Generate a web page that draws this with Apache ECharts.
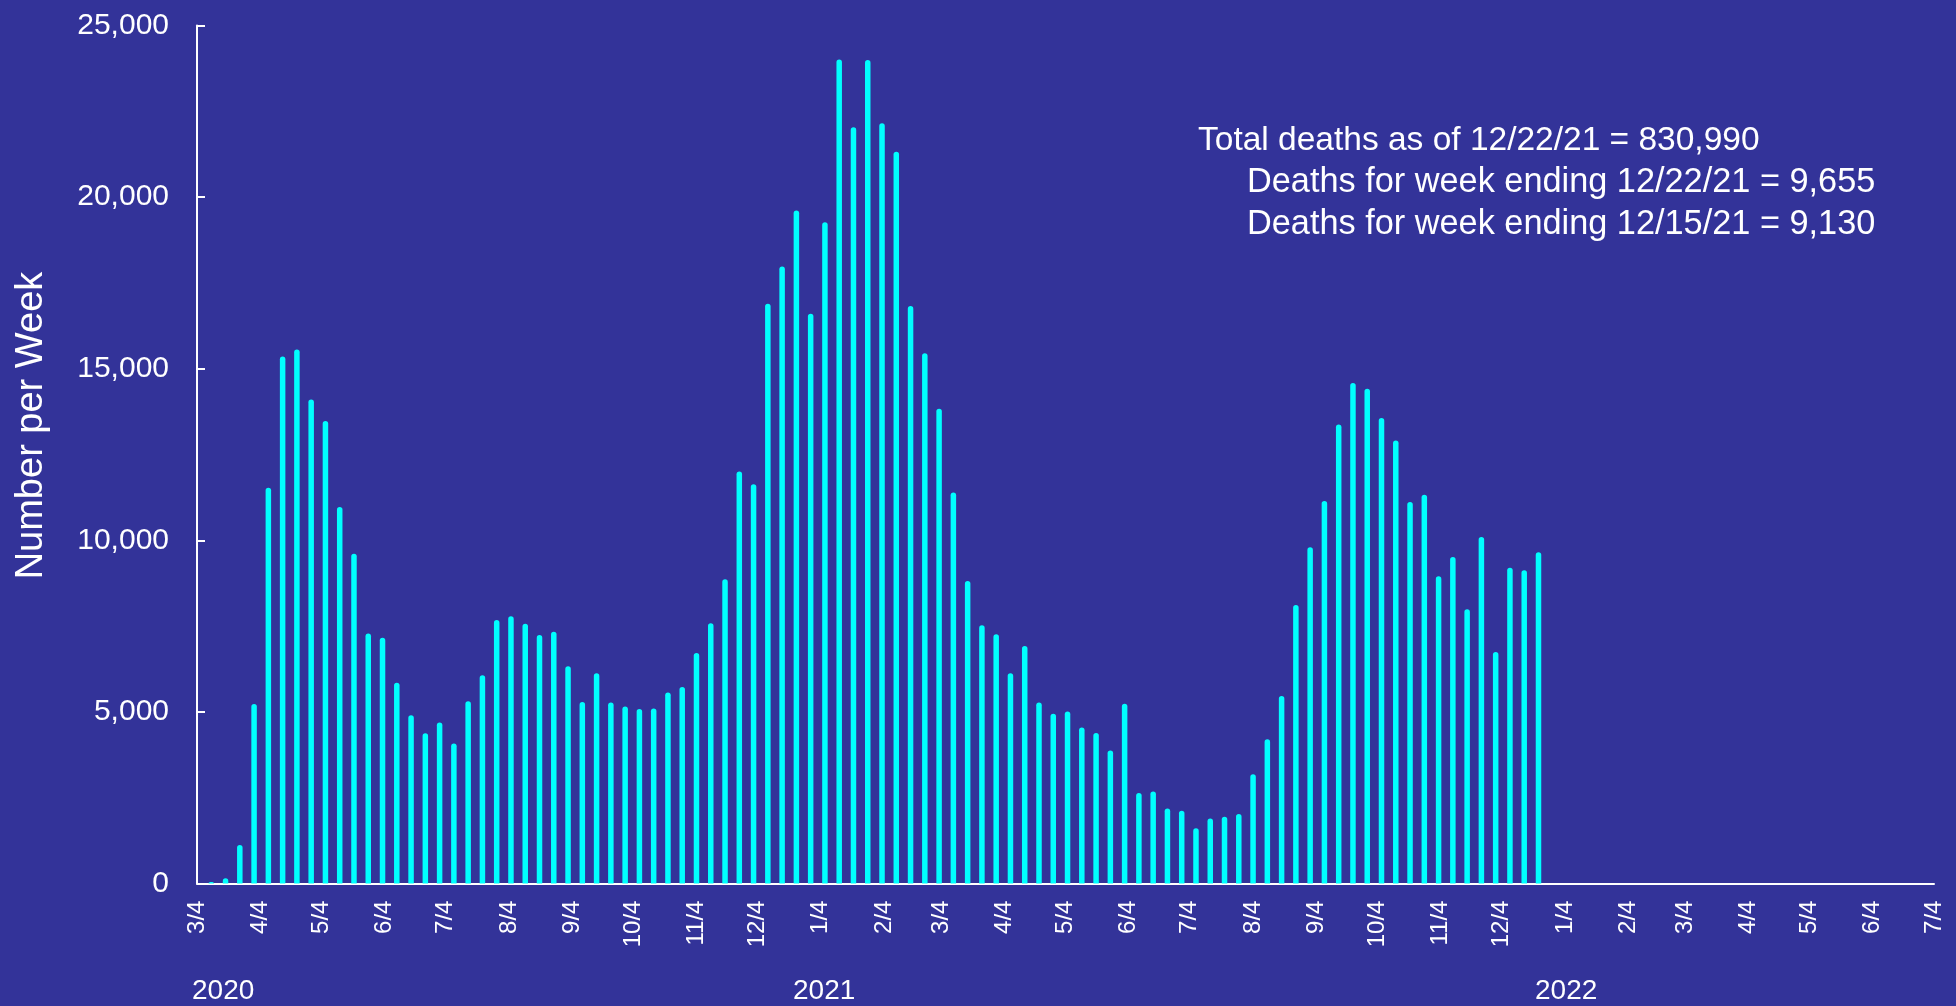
<!DOCTYPE html>
<html>
<head>
<meta charset="utf-8">
<script src="https://cdn.jsdelivr.net/npm/echarts@6/dist/echarts.min.js"></script>
<style>
html,body{margin:0;padding:0;background:#333399;}
#chart{width:1956px;height:1006px;}
</style>
</head>
<body>
<div id="chart"></div>
<script>
// Week-ending dates: weekly (Wednesdays) from 2020-03-11 through 2021-12-22
const firstWeekEnding = [2020, 2, 11];
const weeklyDeaths = [
  50, 156, 1124, 5236, 11534, 15355, 15563, 14106, 13481, 10972,
  9608, 7287, 7162, 5850, 4903, 4383, 4695, 4081, 5309, 6069,
  7683, 7787, 7568, 7245, 7339, 6329, 5288, 6131, 5278, 5163,
  5090, 5101, 5566, 5728, 6715, 7588, 8867, 12006, 11633, 16892,
  17976, 19610, 16601, 19271, 24011, 22037, 23995, 22150, 21325, 16827,
  15452, 13834, 11391, 8818, 7524, 7265, 6132, 6925, 5275, 4951,
  5016, 4547, 4385, 3880, 5240, 2640, 2686, 2186, 2124, 1614,
  1895, 1947, 2030, 3185, 4206, 5465, 8120, 9796, 11149, 13377,
  14584, 14418, 13564, 12908, 11118, 11326, 8953, 9515, 7995, 10098,
  6746, 9200, 9130, 9655
];
const xTickDates = [
  '2020-03-04','2020-04-04','2020-05-04','2020-06-04','2020-07-04','2020-08-04',
  '2020-09-04','2020-10-04','2020-11-04','2020-12-04','2021-01-04','2021-02-04',
  '2021-03-04','2021-04-04','2021-05-04','2021-06-04','2021-07-04','2021-08-04',
  '2021-09-04','2021-10-04','2021-11-04','2021-12-04','2022-01-04','2022-02-04',
  '2022-03-04','2022-04-04','2022-05-04','2022-06-04','2022-07-04'
];
const yTicks = [0, 5000, 10000, 15000, 20000, 25000];
const yearLabels = ['2020', '2021', '2022'];
const annotationLines = [
  'Total deaths as of 12/22/21 = 830,990',
  'Deaths for week ending 12/22/21 = 9,655',
  'Deaths for week ending 12/15/21 = 9,130'
];
const yAxisTitle = 'Number per Week';

function parseDate(s){ const p = s.split('-').map(Number); return new Date(p[0], p[1]-1, p[2]).getTime(); }
const seriesData = weeklyDeaths.map((v, i) => {
  const d = new Date(firstWeekEnding[0], firstWeekEnding[1], firstWeekEnding[2] + 7*i);
  return [d.getTime(), v];
});
const tickValues = xTickDates.map(parseDate);

const FONT = '"Liberation Sans", Arial, sans-serif';
const chart = echarts.init(document.getElementById('chart'), null, {renderer:'canvas'});
chart.setOption({
  backgroundColor: '#333399',
  animation: false,
  grid: { left: 197, right: 22, top: 25.5, bottom: 122.4, containLabel: false, outerBoundsMode: 'none' },
  xAxis: {
    type: 'value',
    min: tickValues[0],
    max: tickValues[tickValues.length-1],
    axisLine: { show: true, lineStyle: { color: '#ffffff', width: 2 } },
    axisTick: { show: false },
    splitLine: { show: false },
    axisLabel: {
      customValues: tickValues,
      rotate: 90,
      margin: 17,
      color: '#ffffff',
      fontSize: 24,
      fontFamily: FONT,
      hideOverlap: false,
      formatter: function (v) { const d = new Date(v); return (d.getMonth()+1) + '/' + d.getDate(); }
    }
  },
  yAxis: {
    type: 'value',
    min: yTicks[0],
    max: yTicks[yTicks.length-1],
    interval: yTicks[1] - yTicks[0],
    name: yAxisTitle,
    nameLocation: 'middle',
    nameRotate: 90,
    nameGap: 146,
    nameTextStyle: { color: '#ffffff', fontSize: 38, fontFamily: FONT, padding: [0, 0, 0, 58] },
    axisLine: { show: true, lineStyle: { color: '#ffffff', width: 2 } },
    axisTick: { show: true, inside: true, length: 8, lineStyle: { color: '#ffffff', width: 2 } },
    splitLine: { show: false },
    axisLabel: {
      margin: 28,
      color: '#ffffff',
      fontSize: 30,
      fontFamily: FONT,
      formatter: function (v) { return v.toLocaleString('en-US'); }
    }
  },
  series: [{
    type: 'bar',
    data: seriesData,
    barWidth: 5.5,
    itemStyle: { color: '#00ffff', borderRadius: [3, 3, 0, 0] }
  }],
  graphic: [
    { type: 'text', left: 1198, top: 124, style: { text: annotationLines[0], fill: '#ffffff', font: '33.5px ' + FONT } },
    { type: 'text', left: 1247, top: 166, style: { text: annotationLines[1], fill: '#ffffff', font: '34.3px ' + FONT } },
    { type: 'text', left: 1247, top: 208, style: { text: annotationLines[2], fill: '#ffffff', font: '34.3px ' + FONT } },
    { type: 'text', left: 192, top: 977, style: { text: yearLabels[0], fill: '#ffffff', font: '28px ' + FONT } },
    { type: 'text', left: 793, top: 977, style: { text: yearLabels[1], fill: '#ffffff', font: '28px ' + FONT } },
    { type: 'text', left: 1535, top: 977, style: { text: yearLabels[2], fill: '#ffffff', font: '28px ' + FONT } }
  ]
});
</script>
</body>
</html>
